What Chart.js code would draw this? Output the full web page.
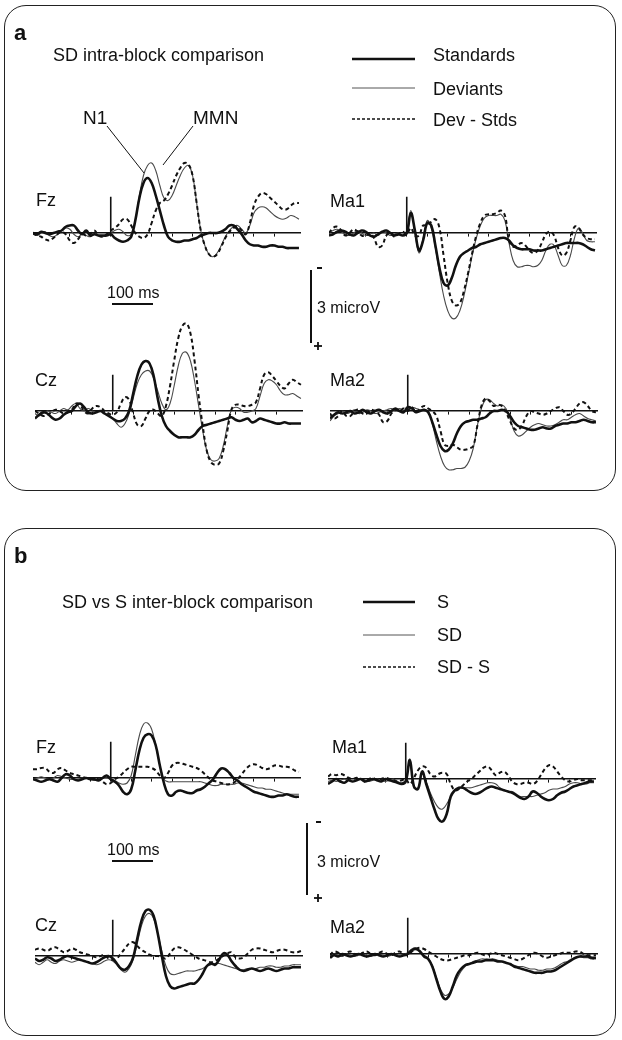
<!DOCTYPE html>
<html>
<head>
<meta charset="utf-8">
<script src="https://cdn.jsdelivr.net/npm/chart.js@4.4.0/dist/chart.umd.min.js"></script>
<style>
  body { margin: 0; background: #fff; }
  #page { position: relative; width: 622px; height: 1040px; overflow: hidden; font-family: "Liberation Sans", Arial, sans-serif; color: #111; }
  .panel { position: absolute; left: 4px; width: 612px; border: 1.5px solid #222; border-radius: 22px; box-sizing: border-box; }
  .t { position: absolute; white-space: nowrap; line-height: 1.15; transform: translateY(-50%); font-size: 18px; }
  .big { font-size: 22px; font-weight: bold; }
  .small { font-size: 16px; }
  canvas { position: absolute; }
  svg { position: absolute; left: 0; top: 0; }
</style>
</head>
<body>
<div id="page">
  <div class="panel" style="top:5px;height:486px"></div>
  <div class="panel" style="top:528px;height:508px"></div>

  <canvas id="fzA" width="268" height="200" style="left:33px;top:133px"></canvas>
  <canvas id="ma1A" width="268" height="200" style="left:329px;top:133px"></canvas>
  <canvas id="czA" width="268" height="200" style="left:35px;top:311px"></canvas>
  <canvas id="ma2A" width="268" height="200" style="left:330px;top:311px"></canvas>
  <canvas id="fzB" width="268" height="200" style="left:33px;top:678px"></canvas>
  <canvas id="ma1B" width="268" height="200" style="left:328px;top:679px"></canvas>
  <canvas id="czB" width="268" height="200" style="left:35px;top:856px"></canvas>
  <canvas id="ma2B" width="268" height="200" style="left:330px;top:854px"></canvas>

  <svg width="622" height="1040">
    <g stroke="#111" fill="none">
      <line x1="352" y1="59" x2="415" y2="59" stroke-width="2.5"/>
      <line x1="352" y1="88" x2="415" y2="88" stroke-width="1" stroke="#555"/>
      <line x1="352" y1="119" x2="415" y2="119" stroke-width="1.5" stroke-dasharray="3 2"/>
      <line x1="363" y1="602" x2="415" y2="602" stroke-width="2.5"/>
      <line x1="363" y1="635" x2="415" y2="635" stroke-width="1" stroke="#555"/>
      <line x1="363" y1="667" x2="415" y2="667" stroke-width="1.5" stroke-dasharray="3 2"/>
      <line x1="107" y1="126" x2="144" y2="173" stroke-width="1"/>
      <line x1="193" y1="126" x2="163" y2="165" stroke-width="1"/>
      <line x1="112" y1="304" x2="153" y2="304" stroke-width="2"/>
      <line x1="311" y1="270" x2="311" y2="343" stroke-width="2"/>
      <line x1="317" y1="268" x2="322" y2="268" stroke-width="2"/>
      <line x1="314" y1="346" x2="322" y2="346" stroke-width="1.8"/>
      <line x1="318" y1="342" x2="318" y2="350" stroke-width="1.8"/>
      <line x1="112" y1="861" x2="153" y2="861" stroke-width="2"/>
      <line x1="307" y1="823" x2="307" y2="895" stroke-width="2"/>
      <line x1="316" y1="822" x2="321" y2="822" stroke-width="2"/>
      <line x1="314" y1="898" x2="322" y2="898" stroke-width="1.8"/>
      <line x1="318" y1="894" x2="318" y2="902" stroke-width="1.8"/>
    </g>
  </svg>

  <div class="t big" style="left:14px;top:33px">a</div>
  <div class="t" style="left:53px;top:55px">SD intra-block comparison</div>
  <div class="t" style="left:433px;top:55px">Standards</div>
  <div class="t" style="left:433px;top:89px">Deviants</div>
  <div class="t" style="left:433px;top:120px">Dev - Stds</div>
  <div class="t" style="left:83px;top:118px;font-size:19px">N1</div>
  <div class="t" style="left:193px;top:118px;font-size:19px">MMN</div>
  <div class="t" style="left:36px;top:200px">Fz</div>
  <div class="t" style="left:330px;top:201px">Ma1</div>
  <div class="t" style="left:35px;top:380px">Cz</div>
  <div class="t" style="left:330px;top:380px">Ma2</div>
  <div class="t small" style="left:107px;top:293px">100 ms</div>
  <div class="t small" style="left:317px;top:308px">3 microV</div>

  <div class="t big" style="left:14px;top:556px">b</div>
  <div class="t" style="left:62px;top:602px">SD vs S inter-block comparison</div>
  <div class="t" style="left:437px;top:602px">S</div>
  <div class="t" style="left:437px;top:635px">SD</div>
  <div class="t" style="left:437px;top:667px">SD - S</div>
  <div class="t" style="left:36px;top:747px">Fz</div>
  <div class="t" style="left:332px;top:747px">Ma1</div>
  <div class="t" style="left:35px;top:925px">Cz</div>
  <div class="t" style="left:330px;top:927px">Ma2</div>
  <div class="t small" style="left:107px;top:850px">100 ms</div>
  <div class="t small" style="left:317px;top:862px">3 microV</div>
</div>

<script>
// time axis (ms), one sample every 10 ms
const times = [
  -190, -180, -170, -160, -150, -140, -130, -120, -110, -100,
  -90, -80, -70, -60, -50, -40, -30, -20, -10, 0,
  10, 20, 30, 40, 50, 60, 70, 80, 90, 100,
  110, 120, 130, 140, 150, 160, 170, 180, 190, 200,
  210, 220, 230, 240, 250, 260, 270, 280, 290, 300,
  310, 320, 330, 340, 350, 360, 370, 380, 390, 400,
  410, 420, 430, 440, 450, 460
];

// stimulus onset marker
const onsetTimes = [0, 0];
const onsetLevel = [0, -1.45];

// ---- panel a : SD intra-block (microV, negative plotted up) ----
const fzA_std = [
  0.0, 0.05, -0.05, 0.0, 0.05, 0.0, -0.05, -0.1, -0.25, -0.3,
  -0.3, -0.1, 0.05, -0.1, 0.1, 0.05, 0.1, 0.1, 0.1, 0.05,
  0.2, 0.3, 0.35, 0.3, 0.15, -0.5, -1.4, -2.0, -2.2, -2.0,
  -1.5, -0.9, -0.3, 0.15, 0.3, 0.35, 0.35, 0.3, 0.3, 0.25,
  0.2, 0.1, 0.05, 0.0, 0.0, 0.0, -0.05, -0.15, -0.3, -0.3,
  -0.15, 0.05, 0.3, 0.45, 0.5, 0.5, 0.55, 0.55, 0.5, 0.5,
  0.55, 0.55, 0.6, 0.6, 0.6, 0.6
];
const fzA_dev = [
  0.05, 0.1, 0.0, -0.05, 0.1, 0.15, 0.05, -0.1, -0.2, -0.15,
  0.05, 0.15, 0.05, 0.1, 0.15, 0.05, 0.1, 0.15, 0.1, 0.0,
  -0.1, -0.15, -0.05, 0.1, 0.05, -0.5, -1.5, -2.3, -2.7, -2.8,
  -2.5, -1.9, -1.4, -1.3, -1.5, -1.9, -2.3, -2.6, -2.7, -2.3,
  -1.2, -0.1, 0.5, 0.85, 0.95, 0.8, 0.5, 0.15, -0.1, -0.25,
  -0.3, -0.15, 0.0, -0.3, -0.8, -1.0, -1.05, -1.0, -0.85, -0.7,
  -0.6, -0.55, -0.6, -0.7, -0.65, -0.55
];
const fzA_diff = [
  0.0, 0.1, 0.15, 0.25, 0.3, 0.2, 0.05, -0.05, 0.05, 0.3,
  0.4, 0.25, 0.05, 0.1, 0.05, -0.1, 0.1, 0.15, 0.05, -0.1,
  -0.2, -0.35, -0.55, -0.55, -0.3, 0.0, 0.15, 0.2, 0.05, -0.4,
  -0.9, -1.2, -1.3, -1.55, -1.9, -2.3, -2.6, -2.8, -2.75, -2.3,
  -1.2, -0.1, 0.5, 0.85, 0.95, 0.85, 0.55, 0.2, -0.05, -0.2,
  -0.25, -0.1, 0.05, -0.4, -1.1, -1.45, -1.6, -1.55, -1.4, -1.25,
  -1.1, -0.95, -0.95, -1.1, -1.2, -1.2
];

const ma1A_std = [
  0.1, 0.05, -0.05, -0.1, -0.05, 0.05, 0.1, 0.0, -0.1, -0.05,
  0.1, 0.15, 0.05, -0.05, -0.1, 0.0, 0.1, 0.05, 0.1, 0.0,
  -0.8, -0.1, 0.7, 0.3, -0.4, -0.3, 0.5, 1.4, 2.0, 2.1,
  1.8, 1.3, 0.95, 0.8, 0.7, 0.6, 0.55, 0.45, 0.4, 0.35,
  0.3, 0.25, 0.2, 0.2, 0.3, 0.5, 0.6, 0.65, 0.65, 0.65,
  0.7, 0.7, 0.7, 0.65, 0.6, 0.55, 0.5, 0.45, 0.4, 0.4,
  0.4, 0.4, 0.45, 0.55, 0.65, 0.7
];
const ma1A_dev = [
  0.0, -0.1, -0.15, -0.05, 0.05, 0.1, 0.0, -0.1, 0.0, 0.1,
  0.05, 0.0, 0.1, -0.05, 0.0, 0.1, 0.05, 0.0, 0.1, 0.0,
  -0.9, 0.0, 0.8, 0.2, -0.5, -0.2, 0.6, 1.6, 2.5, 3.1,
  3.4, 3.4, 3.1, 2.5, 1.7, 0.9, 0.2, -0.3, -0.6, -0.7,
  -0.7, -0.7, -0.75, -0.5, 0.4, 1.1, 1.35, 1.35, 1.3, 1.3,
  1.35, 1.3, 1.1, 0.7, 0.45, 0.5, 0.9, 1.3, 1.3, 0.9,
  0.2, -0.2, 0.0, 0.3, 0.35, 0.35
];
const ma1A_diff = [
  0.0, -0.2, -0.25, -0.1, 0.1, 0.0, -0.15, -0.05, 0.1, 0.1,
  0.0, 0.2, 0.55, 0.5, 0.1, 0.0, 0.15, 0.05, -0.05, 0.05,
  -0.2, 0.1, 0.1, -0.3, -0.3, -0.45, -0.55, -0.2, 0.9, 2.0,
  2.7, 2.9, 2.8, 2.3, 1.6, 0.8, 0.1, -0.4, -0.7, -0.75,
  -0.75, -0.8, -0.9, -0.7, 0.3, 0.55, 0.5, 0.4, 0.5, 0.7,
  0.8, 0.7, 0.4, 0.05, -0.05, 0.1, 0.6, 0.9, 0.8, 0.3,
  -0.25, -0.2, 0.05, 0.2, 0.25, 0.25
];

const czA_std = [
  0.3, 0.15, 0.05, 0.1, 0.25, 0.35, 0.3, 0.15, 0.05, 0.0,
  -0.2, -0.3, -0.15, 0.05, 0.1, 0.05, 0.0, 0.1, 0.2, 0.3,
  0.4, 0.4, 0.3, 0.0, -0.7, -1.4, -1.85, -2.0, -1.9, -1.4,
  -0.5, 0.2, 0.6, 0.8, 0.95, 1.05, 1.05, 1.05, 1.05, 0.95,
  0.75, 0.6, 0.55, 0.5, 0.45, 0.4, 0.35, 0.3, 0.25, 0.35,
  0.4, 0.35, 0.3, 0.45, 0.4, 0.3, 0.35, 0.4, 0.45, 0.5,
  0.5, 0.45, 0.5, 0.5, 0.5, 0.5
];
const czA_dev = [
  0.1, 0.2, 0.1, 0.0, 0.05, 0.1, 0.0, -0.1, -0.05, -0.2,
  -0.3, -0.1, 0.0, -0.1, 0.0, 0.05, 0.0, 0.1, 0.15, 0.3,
  0.5, 0.65, 0.5, 0.1, -0.5, -1.1, -1.45, -1.6, -1.6, -1.3,
  -0.8, -0.3, -0.05, -0.3, -1.0, -1.8, -2.3, -2.35, -2.0, -1.2,
  -0.2, 0.8, 1.6, 1.95, 2.0, 1.9, 1.4, 0.6, -0.05, -0.15,
  -0.1, 0.05, 0.05, 0.0, -0.1, -0.6, -1.1, -1.25, -1.2, -1.05,
  -0.8, -0.65, -0.65, -0.7, -0.6, -0.5
];
const czA_diff = [
  0.0, 0.1, 0.2, 0.15, 0.05, -0.05, 0.0, 0.1, 0.05, -0.05,
  -0.3, -0.25, 0.0, 0.1, -0.1, -0.2, -0.15, 0.0, 0.1, 0.15,
  0.05, -0.3, -0.55, -0.45, 0.1, 0.55, 0.6, 0.3, 0.0, -0.05,
  0.1, 0.2, -0.2, -1.0, -2.0, -2.9, -3.4, -3.5, -3.1, -2.0,
  -0.6, 0.6, 1.6, 2.05, 2.15, 2.1, 1.6, 0.8, -0.05, -0.25,
  -0.25, -0.2, -0.2, -0.25, -0.35, -0.9, -1.45, -1.55, -1.4, -1.2,
  -1.0, -0.9, -1.1, -1.25, -1.15, -1.05
];

const ma2A_std = [
  0.3, 0.15, 0.05, 0.1, 0.05, 0.0, 0.1, 0.05, -0.05, 0.05,
  0.1, 0.0, -0.05, 0.05, 0.1, 0.0, -0.1, 0.0, 0.05, -0.15,
  -0.1, 0.05, 0.0, -0.05, 0.05, 0.45, 0.95, 1.4, 1.6, 1.55,
  1.3, 0.9, 0.6, 0.45, 0.4, 0.35, 0.35, 0.3, 0.25, 0.1,
  0.0, 0.0, -0.05, 0.0, 0.2, 0.45, 0.6, 0.65, 0.7, 0.75,
  0.75, 0.7, 0.65, 0.7, 0.7, 0.6, 0.55, 0.5, 0.5, 0.45,
  0.45, 0.4, 0.35, 0.4, 0.45, 0.45
];
const ma2A_dev = [
  0.4, 0.2, 0.1, 0.0, 0.1, 0.05, -0.05, 0.1, 0.05, -0.05,
  0.0, 0.1, 0.05, 0.0, -0.05, -0.1, 0.0, -0.1, 0.0, -0.05,
  -0.15, -0.1, -0.05, 0.0, 0.0, 0.5, 1.2, 1.8, 2.2, 2.35,
  2.35, 2.3, 2.3, 2.25, 2.0, 1.5, 0.6, -0.1, -0.45, -0.45,
  -0.3, -0.2, -0.25, -0.1, 0.3, 0.8, 1.0, 0.95, 0.8, 0.65,
  0.55, 0.5, 0.55, 0.6, 0.6, 0.55, 0.45, 0.35, 0.35, 0.25,
  0.15, 0.1, 0.2, 0.3, 0.35, 0.4
];
const ma2A_diff = [
  0.1, 0.3, 0.2, 0.0, 0.2, 0.2, 0.0, -0.05, 0.1, 0.1,
  -0.05, 0.0, 0.15, 0.45, 0.4, 0.1, -0.05, 0.0, -0.1, 0.0,
  -0.15, 0.05, -0.1, -0.2, -0.1, 0.0, 0.2, 0.8, 1.35, 1.4,
  1.35, 1.45, 1.55, 1.55, 1.5, 1.4, 0.6, -0.2, -0.5, -0.4,
  -0.2, -0.25, -0.2, 0.05, 0.4, 0.7, 0.75, 0.55, 0.2, 0.0,
  0.05, 0.1, 0.15, 0.1, 0.0, -0.1, -0.15, 0.0, 0.15, 0.1,
  -0.1, -0.3, -0.35, -0.2, 0.0, 0.05
];

// ---- panel b : SD vs S inter-block ----
const fzB_s = [
  0.05, 0.1, 0.15, 0.1, 0.05, 0.1, 0.15, 0.0, -0.15, -0.1,
  0.05, 0.1, 0.05, 0.0, 0.05, 0.05, 0.1, 0.0, -0.1, 0.05,
  0.15, 0.3, 0.55, 0.65, 0.45, -0.3, -1.1, -1.6, -1.75, -1.7,
  -1.3, -0.5, 0.2, 0.65, 0.7, 0.55, 0.5, 0.55, 0.6, 0.6,
  0.5, 0.45, 0.35, 0.2, 0.05, -0.2, -0.38, -0.35, -0.2, 0.0,
  0.1, 0.25, 0.35, 0.45, 0.55, 0.6, 0.65, 0.7, 0.75, 0.75,
  0.7, 0.7, 0.65, 0.7, 0.75, 0.75
];
const fzB_sd = [
  0.05, 0.0, -0.05, 0.0, 0.05, 0.0, -0.1, -0.05, 0.0, 0.05,
  0.05, 0.05, 0.0, 0.0, 0.05, 0.1, 0.05, 0.0, 0.0, 0.05,
  0.1, 0.2, 0.25, 0.2, -0.1, -0.9, -1.7, -2.15, -2.2, -1.95,
  -1.3, -0.5, 0.05, 0.15, 0.15, 0.15, 0.15, 0.15, 0.15, 0.15,
  0.15, 0.15, 0.2, 0.25, 0.3, 0.3, 0.25, 0.25, 0.25, 0.25,
  0.2, 0.2, 0.25, 0.3, 0.35, 0.4, 0.4, 0.45, 0.45, 0.5,
  0.55, 0.6, 0.65, 0.65, 0.65, 0.65
];
const fzB_diff = [
  -0.35, -0.35, -0.4, -0.4, -0.25, -0.2, -0.35, -0.4, -0.3, -0.2,
  -0.15, -0.1, -0.05, 0.0, 0.0, 0.05, 0.05, 0.15, 0.25, 0.2,
  0.05, -0.05, -0.2, -0.35, -0.45, -0.45, -0.45, -0.45, -0.45, -0.4,
  -0.3, -0.1, 0.0, -0.2, -0.5, -0.6, -0.6, -0.55, -0.5, -0.45,
  -0.4, -0.3, -0.15, 0.0, 0.1, 0.15, 0.2, 0.25, 0.25, 0.2,
  0.05, -0.15, -0.35, -0.5, -0.55, -0.5, -0.4, -0.35, -0.4, -0.5,
  -0.5, -0.45, -0.45, -0.4, -0.3, -0.25
];

const ma1B_s = [
  0.2, 0.1, 0.0, 0.1, 0.15, 0.05, 0.1, 0.05, 0.0, 0.1,
  0.05, 0.0, 0.05, 0.1, 0.0, 0.05, 0.1, 0.15, 0.2, 0.1,
  -0.75, 0.3, 0.4, -0.3, 0.2, 0.7, 1.2, 1.6, 1.7, 1.4,
  0.7, 0.45, 0.35, 0.35, 0.45, 0.55, 0.6, 0.55, 0.45, 0.35,
  0.3, 0.35, 0.4, 0.45, 0.5, 0.55, 0.65, 0.75, 0.8, 0.7,
  0.5, 0.55, 0.7, 0.8, 0.85, 0.8, 0.65, 0.55, 0.5, 0.4,
  0.3, 0.25, 0.2, 0.15, 0.1, 0.1
];
const ma1B_sd = [
  0.1, 0.05, 0.1, 0.05, 0.0, 0.05, 0.1, 0.05, 0.0, 0.05,
  0.1, 0.05, 0.0, 0.05, 0.1, 0.05, 0.0, 0.1, 0.15, 0.05,
  -0.8, 0.35, 0.35, -0.2, 0.1, 0.55, 0.9, 1.15, 1.2, 1.0,
  0.7, 0.45, 0.35, 0.35, 0.35, 0.35, 0.3, 0.25, 0.2, 0.15,
  0.15, 0.2, 0.35, 0.45, 0.5, 0.5, 0.6, 0.7, 0.7, 0.7,
  0.7, 0.65, 0.6, 0.55, 0.45, 0.4, 0.4, 0.35, 0.3, 0.2,
  0.15, 0.15, 0.2, 0.2, 0.15, 0.15
];
const ma1B_diff = [
  -0.1, -0.2, -0.15, -0.2, -0.15, -0.05, 0.0, -0.05, 0.0, 0.05,
  0.0, -0.05, 0.05, 0.0, -0.05, 0.0, 0.05, 0.1, 0.05, 0.0,
  0.2, -0.05, -0.35, -0.5, -0.45, -0.2, -0.1, -0.2, -0.25, -0.2,
  0.2, 0.45, 0.4, 0.25, 0.1, 0.0, -0.15, -0.3, -0.45, -0.5,
  -0.35, -0.15, -0.25, -0.3, -0.15, 0.1, 0.2, 0.2, 0.15, 0.15,
  0.2, 0.1, -0.15, -0.4, -0.55, -0.5, -0.3, -0.1, 0.05, 0.1,
  0.05, 0.0, 0.05, 0.05, 0.05, 0.05
];

const czB_s = [
  0.1, 0.2, 0.15, 0.05, 0.1, 0.2, 0.15, 0.05, 0.0, 0.05,
  0.1, 0.15, 0.2, 0.25, 0.3, 0.25, 0.15, 0.05, 0.0, 0.1,
  0.3, 0.5, 0.55, 0.4, 0.05, -0.7, -1.4, -1.8, -1.85, -1.6,
  -0.9, 0.0, 0.8, 1.2, 1.3, 1.25, 1.2, 1.15, 1.1, 1.1,
  0.95, 0.7, 0.4, 0.3, 0.35, 0.15, -0.1, -0.05, 0.2, 0.4,
  0.55, 0.6, 0.55, 0.5, 0.55, 0.6, 0.55, 0.5, 0.55, 0.6,
  0.55, 0.5, 0.5, 0.45, 0.45, 0.45
];
const czB_sd = [
  0.25, 0.35, 0.25, 0.15, 0.25, 0.3, 0.2, 0.15, 0.2, 0.25,
  0.2, 0.15, 0.2, 0.25, 0.3, 0.35, 0.3, 0.2, 0.15, 0.2,
  0.35, 0.55, 0.65, 0.5, 0.15, -0.5, -1.2, -1.6, -1.7, -1.5,
  -0.9, -0.2, 0.4, 0.7, 0.75, 0.7, 0.65, 0.6, 0.6, 0.6,
  0.55, 0.5, 0.4, 0.35, 0.3, 0.3, 0.35, 0.4, 0.45, 0.5,
  0.55, 0.55, 0.5, 0.5, 0.5, 0.45, 0.45, 0.4, 0.4, 0.45,
  0.45, 0.4, 0.4, 0.35, 0.35, 0.35
];
const czB_diff = [
  -0.25, -0.3, -0.25, -0.2, -0.3, -0.35, -0.25, -0.15, -0.2, -0.3,
  -0.25, -0.15, -0.1, -0.05, 0.0, 0.05, 0.0, -0.05, 0.1, 0.15,
  0.1, -0.1, -0.3, -0.5, -0.55, -0.4, -0.25, -0.15, -0.05, 0.0,
  0.0, 0.05, 0.1, -0.1, -0.3, -0.35, -0.3, -0.2, -0.1, 0.0,
  0.1, 0.15, 0.2, 0.25, 0.2, 0.1, 0.0, -0.1, -0.15, 0.05,
  0.1, 0.05, -0.1, -0.25, -0.3, -0.3, -0.25, -0.2, -0.15, -0.2,
  -0.25, -0.25, -0.2, -0.15, -0.15, -0.2
];

const ma2B_s = [
  0.15, 0.05, 0.1, 0.0, 0.05, 0.1, 0.05, 0.0, 0.05, 0.1,
  0.05, 0.0, 0.05, 0.1, 0.05, 0.0, 0.05, 0.1, 0.05, 0.0,
  -0.15, -0.2, -0.1, 0.1, 0.2, 0.5, 1.0, 1.5, 1.8, 1.7,
  1.3, 0.85, 0.6, 0.45, 0.4, 0.35, 0.3, 0.3, 0.25, 0.25,
  0.25, 0.3, 0.3, 0.35, 0.4, 0.5, 0.55, 0.6, 0.65, 0.7,
  0.75, 0.75, 0.75, 0.7, 0.7, 0.65, 0.55, 0.45, 0.35, 0.25,
  0.15, 0.1, 0.1, 0.1, 0.15, 0.15
];
const ma2B_sd = [
  0.1, 0.0, 0.05, 0.1, 0.0, 0.05, 0.1, 0.05, 0.0, 0.05,
  0.1, 0.05, 0.0, 0.05, 0.1, 0.05, 0.0, 0.05, 0.0, -0.05,
  -0.2, -0.25, -0.1, 0.05, 0.15, 0.45, 0.95, 1.4, 1.65, 1.6,
  1.35, 1.0, 0.7, 0.5, 0.4, 0.3, 0.25, 0.2, 0.2, 0.2,
  0.2, 0.25, 0.3, 0.35, 0.4, 0.45, 0.5, 0.5, 0.55, 0.6,
  0.6, 0.65, 0.65, 0.6, 0.6, 0.55, 0.45, 0.35, 0.3, 0.2,
  0.15, 0.1, 0.15, 0.15, 0.2, 0.2
];
const ma2B_diff = [
  0.05, -0.1, -0.05, 0.05, -0.05, -0.1, 0.0, 0.05, -0.05, -0.1,
  0.0, 0.05, -0.05, -0.1, 0.0, 0.05, -0.05, -0.1, 0.0, 0.05,
  -0.1, -0.2, -0.25, -0.2, -0.1, 0.0, 0.1, 0.2, 0.25, 0.25,
  0.2, 0.15, 0.1, 0.05, 0.05, 0.0, -0.05, 0.0, 0.05, 0.0,
  -0.05, 0.0, 0.05, 0.1, 0.15, 0.2, 0.25, 0.2, 0.1, 0.0,
  -0.05, 0.0, 0.1, 0.15, 0.1, 0.05, 0.0, -0.05, -0.05, -0.05,
  -0.1, -0.1, 0.0, 0.05, 0.05, 0.05
];

function toPoints(xs, ys) {
  return xs.map((x, i) => ({ x: x, y: ys[i] }));
}

function erpChart(id, thick, thin, dashed) {
  new Chart(document.getElementById(id), {
    type: 'line',
    data: {
      datasets: [
        { data: toPoints(onsetTimes, onsetLevel), borderColor: '#111', borderWidth: 1.6, tension: 0 },
        { data: toPoints(times, thick), borderColor: '#111', borderWidth: 2.6 },
        { data: toPoints(times, dashed), borderColor: '#111', borderWidth: 2, borderDash: [4, 3] },
        { data: toPoints(times, thin), borderColor: '#4a4a4a', borderWidth: 1.1 }
      ]
    },
    options: {
      responsive: false,
      animation: false,
      devicePixelRatio: 1,
      layout: { padding: 0 },
      elements: { point: { radius: 0 }, line: { tension: 0.4 } },
      datasets: { line: { clip: false } },
      plugins: { legend: { display: false }, tooltip: { enabled: false } },
      scales: {
        x: {
          type: 'linear', min: -190, max: 465,
          position: { y: 0 },
          ticks: { display: false, stepSize: 50 },
          afterBuildTicks: s => { s.ticks = s.ticks.filter(t => t.value % 50 === 0); },
          grid: { drawOnChartArea: false, drawTicks: true, tickLength: 3, color: '#111' },
          border: { color: '#111', width: 1.6 }
        },
        y: { type: 'linear', display: false, min: -4, max: 4, reverse: true }
      }
    }
  });
}

erpChart('fzA', fzA_std, fzA_dev, fzA_diff);
erpChart('ma1A', ma1A_std, ma1A_dev, ma1A_diff);
erpChart('czA', czA_std, czA_dev, czA_diff);
erpChart('ma2A', ma2A_std, ma2A_dev, ma2A_diff);
erpChart('fzB', fzB_s, fzB_sd, fzB_diff);
erpChart('ma1B', ma1B_s, ma1B_sd, ma1B_diff);
erpChart('czB', czB_s, czB_sd, czB_diff);
erpChart('ma2B', ma2B_s, ma2B_sd, ma2B_diff);
</script>
</body>
</html>
